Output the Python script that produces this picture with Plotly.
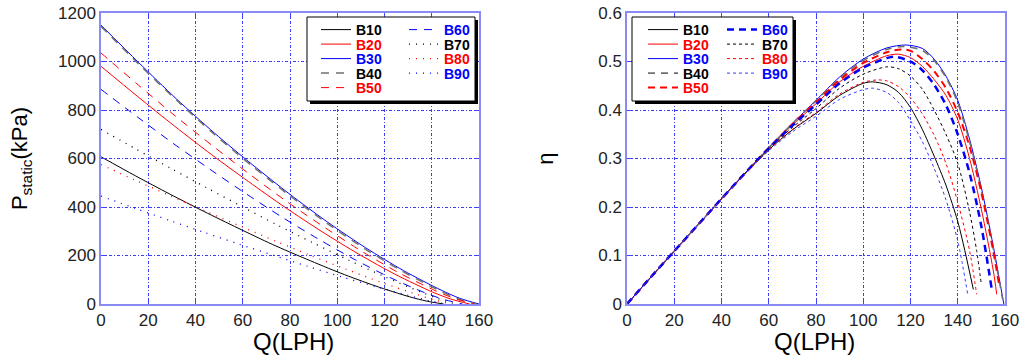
import plotly.graph_objects as go

# ---------------- data ----------------
series_names = ["B10", "B20", "B30", "B40", "B50", "B60", "B70", "B80", "B90"]

# Left panel: static pressure (kPa) vs flow Q (LPH)
q_p_b10 = [0, 14.5, 29, 43.5, 58, 72.5, 87, 101.5, 116, 130.5, 137.8, 145]
p_b10 = [607, 529, 454, 382, 313, 246, 185, 127, 75, 30, 12, 0]
q_p_b20 = [0, 15.6, 31.2, 46.8, 62.4, 78, 93.6, 109.2, 124.8, 140.4, 148.2, 156]
p_b20 = [980, 855, 733, 616, 505, 398, 298, 205, 121, 49, 20, 0]
q_p_b30 = [0, 16, 32, 48, 64, 80, 96, 112, 128, 144, 152, 160]
p_b30 = [1150, 995, 845, 705, 575, 452, 337, 232, 138, 57, 23, 0]
q_p_b40 = [0, 15.9, 31.8, 47.7, 63.6, 79.5, 95.4, 111.3, 127.2, 143.1, 151, 159]
p_b40 = [1145, 990, 842, 702, 572, 450, 335, 230, 137, 56, 22, 0]
q_p_b50 = [0, 15.8, 31.6, 47.4, 63.2, 79, 94.8, 110.6, 126.4, 142.2, 150.1, 158]
p_b50 = [1035, 903, 774, 651, 533, 420, 315, 216, 127, 52, 21, 0]
q_p_b60 = [0, 15.3, 30.6, 45.9, 61.2, 76.5, 91.8, 107.1, 122.4, 137.7, 145.4, 153]
p_b60 = [885, 772, 662, 557, 456, 359, 269, 185, 109, 44, 18, 0]
q_p_b70 = [0, 15, 30, 45, 60, 75, 90, 105, 120, 135, 142.5, 150]
p_b70 = [720, 638, 557, 478, 400, 324, 251, 180, 113, 51, 23, 0]
q_p_b80 = [0, 14.8, 29.6, 44.4, 59.2, 74, 88.8, 103.6, 118.4, 133.2, 140.6, 148]
p_b80 = [575, 509, 445, 382, 320, 259, 200, 144, 90, 41, 18, 0]
q_p_b90 = [0, 14.6, 29.2, 43.8, 58.4, 73, 87.6, 102.2, 116.8, 131.4, 138.7, 146]
p_b90 = [445, 394, 344, 295, 247, 201, 155, 111, 70, 32, 14, 0]

# Right panel: efficiency eta vs flow Q (LPH)
q_e_b10 = [0, 10, 20, 30, 40, 50, 60, 70, 80, 90, 100, 104, 110, 115, 120, 125, 130, 135, 140, 143, 146.6]
e_b10 = [0, 0.055, 0.109, 0.163, 0.217, 0.269, 0.318, 0.359, 0.393, 0.43, 0.455, 0.458, 0.452, 0.436, 0.405, 0.36, 0.305, 0.245, 0.17, 0.11, 0.03]
q_e_b20 = [0, 10, 20, 30, 40, 50, 60, 70, 80, 90, 100, 110, 115, 120, 125, 130, 135, 140, 145, 150, 155, 156.5]
e_b20 = [0, 0.055, 0.109, 0.163, 0.217, 0.270, 0.321, 0.369, 0.413, 0.458, 0.490, 0.512, 0.515, 0.508, 0.49, 0.463, 0.43, 0.38, 0.30, 0.195, 0.07, 0.02]
q_e_b30 = [0, 10, 20, 30, 40, 50, 60, 70, 80, 90, 100, 110, 118, 125, 130, 135, 140, 145, 150, 155, 159.5]
e_b30 = [0, 0.055, 0.109, 0.163, 0.217, 0.270, 0.322, 0.372, 0.420, 0.468, 0.505, 0.528, 0.534, 0.527, 0.505, 0.47, 0.42, 0.34, 0.24, 0.12, 0.0]
q_e_b40 = [0, 10, 20, 30, 40, 50, 60, 70, 80, 90, 100, 110, 117, 125, 130, 135, 140, 145, 150, 155, 159]
e_b40 = [0, 0.055, 0.109, 0.163, 0.217, 0.270, 0.322, 0.372, 0.419, 0.466, 0.502, 0.525, 0.531, 0.523, 0.502, 0.467, 0.415, 0.335, 0.235, 0.115, 0.01]
q_e_b50 = [0, 10, 20, 30, 40, 50, 60, 70, 80, 90, 100, 110, 116, 120, 125, 130, 135, 140, 145, 150, 155, 157.5]
e_b50 = [0, 0.055, 0.109, 0.163, 0.217, 0.270, 0.322, 0.371, 0.416, 0.462, 0.497, 0.519, 0.525, 0.522, 0.505, 0.48, 0.445, 0.395, 0.325, 0.23, 0.11, 0.04]
q_e_b60 = [0, 10, 20, 30, 40, 50, 60, 70, 80, 90, 100, 110, 113, 120, 125, 130, 135, 140, 145, 150, 154.4]
e_b60 = [0, 0.055, 0.109, 0.163, 0.217, 0.270, 0.321, 0.368, 0.411, 0.455, 0.487, 0.507, 0.510, 0.50, 0.482, 0.452, 0.41, 0.35, 0.27, 0.16, 0.03]
q_e_b70 = [0, 10, 20, 30, 40, 50, 60, 70, 80, 90, 100, 110, 115, 120, 125, 130, 135, 140, 145, 148, 150]
e_b70 = [0, 0.055, 0.109, 0.163, 0.217, 0.270, 0.320, 0.364, 0.403, 0.445, 0.474, 0.489, 0.485, 0.47, 0.443, 0.40, 0.35, 0.29, 0.19, 0.11, 0.04]
q_e_b80 = [0, 10, 20, 30, 40, 50, 60, 70, 80, 90, 100, 106, 110, 115, 120, 125, 130, 135, 140, 145, 148]
e_b80 = [0, 0.055, 0.109, 0.163, 0.217, 0.269, 0.318, 0.36, 0.395, 0.433, 0.457, 0.462, 0.46, 0.448, 0.425, 0.392, 0.348, 0.29, 0.21, 0.11, 0.02]
q_e_b90 = [0, 10, 20, 30, 40, 50, 60, 70, 80, 90, 100, 104, 110, 115, 120, 125, 130, 135, 140, 144.4]
e_b90 = [0, 0.055, 0.109, 0.163, 0.216, 0.268, 0.316, 0.355, 0.387, 0.422, 0.442, 0.445, 0.436, 0.415, 0.378, 0.335, 0.28, 0.215, 0.13, 0.015]

x_ticks = [0, 20, 40, 60, 80, 100, 120, 140, 160]
p_ticks = [0, 200, 400, 600, 800, 1000, 1200]
eta_ticks = [0, 0.1, 0.2, 0.3, 0.4, 0.5, 0.6]

# ---------------- styles ----------------
BLACK, RED, BLUE, GRAY = "#000000", "#ff0000", "#0000ff", "#707070"
text_colors = [BLACK, RED, BLUE, BLACK, RED, BLUE, BLACK, RED, BLUE]
left_styles = [
    dict(color=BLACK, width=1, dash="solid"),
    dict(color=RED, width=1, dash="solid"),
    dict(color=BLUE, width=1, dash="solid"),
    dict(color=GRAY, width=1.5, dash="8px,7px"),
    dict(color=RED, width=1, dash="8px,7px"),
    dict(color=BLUE, width=1, dash="8px,7px"),
    dict(color=BLACK, width=1.3, dash="1px,6px"),
    dict(color=RED, width=1.3, dash="1px,6px"),
    dict(color=BLUE, width=1.3, dash="1px,6px"),
]
right_styles = [
    dict(color=BLACK, width=1, dash="solid"),
    dict(color=RED, width=1, dash="solid"),
    dict(color=BLUE, width=1, dash="solid"),
    dict(color=GRAY, width=1.6, dash="7px,6px"),
    dict(color=RED, width=2, dash="7px,5px"),
    dict(color=BLUE, width=2.5, dash="7px,5px"),
    dict(color=BLACK, width=1, dash="3px,3px"),
    dict(color=RED, width=1, dash="3px,3px"),
    dict(color="#3a3aff", width=1, dash="3px,3px"),
]

left_q = [q_p_b10, q_p_b20, q_p_b30, q_p_b40, q_p_b50, q_p_b60, q_p_b70, q_p_b80, q_p_b90]
left_v = [p_b10, p_b20, p_b30, p_b40, p_b50, p_b60, p_b70, p_b80, p_b90]
right_q = [q_e_b10, q_e_b20, q_e_b30, q_e_b40, q_e_b50, q_e_b60, q_e_b70, q_e_b80, q_e_b90]
right_v = [e_b10, e_b20, e_b30, e_b40, e_b50, e_b60, e_b70, e_b80, e_b90]

W, H = 1023, 360
MT, MB = 13, 56
PH = H - MT - MB  # plot height in px


def px_x(p):
    return p / W


def px_y(p):
    return (H - MB - p) / PH


# legend rows: row index of each series (B10..B50 col 1, B60..B90 col 2)
row_of = [0, 1, 2, 3, 4, 0, 1, 2, 3]
row_centers = [30, 44.5, 59, 73.5, 88]

fig = go.Figure()
for i, name in enumerate(series_names):
    fig.add_trace(go.Scatter(
        x=left_q[i], y=left_v[i], mode="lines", line=dict(shape="spline", smoothing=0.8, **left_styles[i]),
        name=f"<b><span style='color:{text_colors[i]}'>{name}</span></b>",
        xaxis="x", yaxis="y", legend="legend" if row_of[i] == 0 else f"legend{row_of[i] + 1}",
    ))
for i, name in enumerate(series_names):
    fig.add_trace(go.Scatter(
        x=right_q[i], y=right_v[i], mode="lines", line=dict(shape="spline", smoothing=0.8, **right_styles[i]),
        name=f"<b><span style='color:{text_colors[i]}'>{name}</span></b>",
        xaxis="x2", yaxis="y2", legend=f"legend{row_of[i] + 6}",
    ))

FONT = "Arial, 'Liberation Sans', sans-serif"
GRIDC = "#3c3cf0"
AXC = "#8a8af5"

axis_common = dict(
    showgrid=True, gridcolor=GRIDC, gridwidth=1, griddash="3px,2px,1px,2px",
    zeroline=False, showline=True, linecolor=AXC, linewidth=1.5, mirror="ticks",
    ticks="inside", ticklen=5, tickcolor="#4040ff", tickwidth=1,
    tickfont=dict(family=FONT, size=17, color="#222222"),
)

XL = (101, 479)
XR = (627, 1005)

layout = dict(
    width=W, height=H,
    margin=dict(l=0, r=0, t=MT, b=MB, pad=0, autoexpand=False),
    paper_bgcolor="white", plot_bgcolor="white",
    font=dict(family=FONT, color="#000000"),
    xaxis=dict(domain=[px_x(XL[0]), px_x(XL[1])], range=[0, 160], tickvals=x_ticks, anchor="y",
               **axis_common),
    yaxis=dict(domain=[0, 1], range=[0, 1200], tickvals=p_ticks, anchor="x",
               title=dict(text="P<sub>static</sub>(kPa)", font=dict(size=22, family=FONT), standoff=24),
               **axis_common),
    xaxis2=dict(domain=[px_x(XR[0]), px_x(XR[1])], range=[0, 160], tickvals=x_ticks, anchor="y2",
                **axis_common),
    yaxis2=dict(domain=[0, 1], range=[0, 0.6], tickvals=eta_ticks, anchor="x2",
                title=dict(text="η", font=dict(size=22, family=FONT), standoff=39), **axis_common),
    showlegend=True,
)

# x-axis titles placed just under the tick labels
layout["annotations"] = [
    dict(text="Q(LPH)", xref="paper", yref="paper", x=px_x((XL[0] + XL[1]) / 2 + 3), y=px_y(341.5),
         xanchor="center", yanchor="middle", showarrow=False, borderpad=0,
         font=dict(size=24, family=FONT, color="#000")),
    dict(text="Q(LPH)", xref="paper", yref="paper", x=px_x((XR[0] + XR[1]) / 2 - 2), y=px_y(341.5),
         xanchor="center", yanchor="middle", showarrow=False, borderpad=0,
         font=dict(size=24, family=FONT, color="#000")),
]

# legends: one per row, two columns via entrywidth
for panel in range(2):
    lx = 316 if panel == 0 else 643
    ew = 43 if panel == 0 else 34
    for r in range(5):
        idx = panel * 5 + r
        key = "legend" if idx == 0 else f"legend{idx + 1}"
        layout[key] = dict(
            x=px_x(lx), y=px_y(row_centers[r]), xanchor="left", yanchor="middle",
            orientation="h", entrywidth=ew, entrywidthmode="pixels", itemwidth=30,
            bgcolor="rgba(0,0,0,0)", borderwidth=0,
            font=dict(family=FONT, size=14, color="#000000"),
        )

# legend boxes (white with drop shadow)
shapes = []
for (x0, x1) in [(307, 475), (632, 793)]:
    y0, y1 = 17, 101
    shapes.append(dict(type="rect", xref="paper", yref="paper", layer="above",
                       x0=px_x(x0 + 3), x1=px_x(x1 + 3), y0=px_y(y1 + 3), y1=px_y(y0 + 3),
                       fillcolor="#000000", line=dict(width=0)))
    shapes.append(dict(type="rect", xref="paper", yref="paper", layer="above",
                       x0=px_x(x0), x1=px_x(x1), y0=px_y(y1), y1=px_y(y0),
                       fillcolor="#ffffff", line=dict(color="#000000", width=1)))
layout["shapes"] = shapes

fig.update_layout(layout)
fig.write_html(
    "out.html",
    config={"displayModeBar": False},
    post_script="document.body.style.margin='0';document.body.style.overflow='hidden';",
)
